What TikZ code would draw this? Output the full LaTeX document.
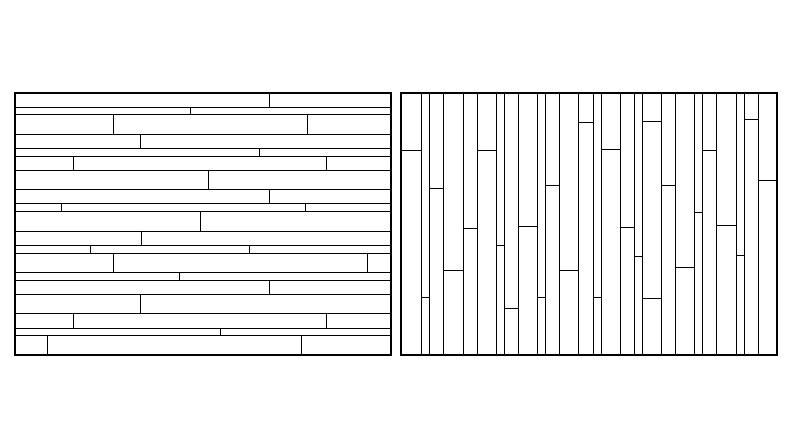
\documentclass[tikz,border=0pt]{standalone}
\begin{document}
\begin{tikzpicture}[x=1pt,y=-1pt,
  seam/.style={line width=1pt,black},
  frame/.style={line width=2pt,black}]
\useasboundingbox (0,0) rectangle (790,444);
% ---- left panel: horizontal planks ----
\foreach \yy [evaluate=\yy as \y using {round(\yy)+0.5}] in {107,114,133.7,148.3,156,170,189,203.3,211.3,230.7,244.7,252.7,272,280,294,313,327.7,335.3}
  \draw[seam] (15,\y) -- (391,\y);
\foreach \xx/\a/\b [evaluate=\xx as \x using {round(\xx)+0.5}] in {269/93/107, 189.5/107/114, 113/114/133.7, 306.5/114/133.7,
  140.3/133.7/148.3, 259/148.3/156, 73/156/170, 326.3/156/170, 208.2/170/189,
  268.5/189/203.3, 61/203.3/211.3, 305.3/203.3/211.3, 200.3/211.3/230.7,
  140.5/230.7/244.7, 90/244.7/252.7, 249/244.7/252.7, 113/252.7/272, 366.7/252.7/272,
  179/272/280, 268.7/280/294, 140.3/294/313, 73/313/327.7, 326.3/313/327.7,
  219.7/327.7/335.3, 46.7/335.3/355, 300.7/335.3/355}
  \draw[seam] (\x,\a) -- (\x,\b);
\draw[frame] (15,93) rectangle (391,355);
% ---- right panel: vertical planks ----
\foreach \xx [evaluate=\xx as \x using {round(\xx)+0.5}] in {421.3,429,443,462.7,476.7,496,503.7,518,537.3,544.7,559,578.3,592.7,600.7,619.7,633.7,641.7,660.7,675.3,694.3,702.3,716.3,735.7,743.7,757.7}
  \draw[seam] (\x,93) -- (\x,355);
\foreach \yy/\a/\b [evaluate=\yy as \y using {round(\yy)+0.5}] in {150/401/421.3, 296.7/421.3/429, 187.7/429/443, 269.5/443/462.7,
  227.5/462.7/476.7, 150/476.7/496, 244.7/496/503.7, 308/503.7/518, 226.3/518/537.3,
  296.7/537.3/544.7, 185.3/544.7/559, 269.5/559/578.3, 122.3/578.3/592.7,
  297.3/592.7/600.7, 148.7/600.7/619.7, 226.8/619.7/633.7, 255.7/633.7/641.7,
  121/641.7/660.7, 298/641.7/660.7, 185/660.7/675.3, 266.7/675.3/694.3,
  212/694.3/702.3, 149.7/702.3/716.3, 224.7/716.3/735.7, 254.7/735.7/743.7,
  119.3/743.7/757.7, 180.3/757.7/777}
  \draw[seam] (\a,\y) -- (\b,\y);
\draw[frame] (401,93) rectangle (777,355);
\end{tikzpicture}
\end{document}
